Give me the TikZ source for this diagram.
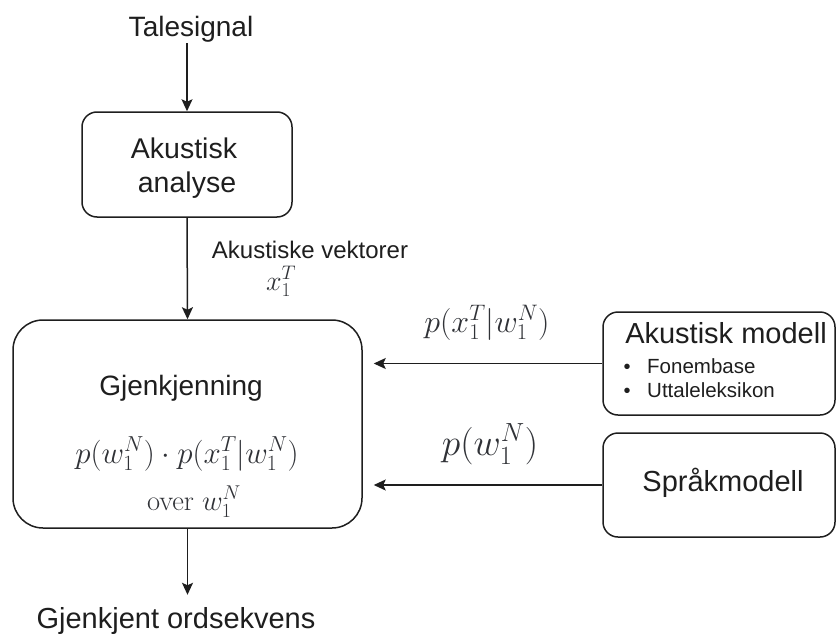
\RequirePackage{fix-cm}
\documentclass[tikz,border=0pt]{standalone}
\usepackage[no-math]{fontspec}
\setmainfont{Liberation Sans}
\usetikzlibrary{arrows.meta}
\definecolor{ink}{HTML}{1E1E1E}
\definecolor{mathink}{HTML}{303237}
\tikzset{
  box/.style={draw=ink, line width=1.5pt, rounded corners=#1, inner sep=0pt},
  box/.default=15pt,
  txt/.style={anchor=base, inner sep=0pt, text=ink},
  mth/.style={anchor=base, inner sep=0pt, text=mathink},
  flow/.style={draw=ink, line width=1.5pt, -{Stealth[length=12pt,width=11pt,inset=2.5pt]}}
}
\begin{document}
\begin{tikzpicture}[x=1pt,y=-1pt]
\useasboundingbox (0,0) rectangle (837,634);

% boxes
\node[box, minimum width=210pt, minimum height=105pt] (ana) at (187,164.5) {};
\node[box=30pt, minimum width=349pt, minimum height=208pt] (rec) at (187.5,424) {};
\node[box, minimum width=232pt, minimum height=103pt] (am) at (719,363.5) {};
\node[box, minimum width=232pt, minimum height=104pt] (lm) at (719,485) {};

% texts
\node[txt, font=\fontsize{28}{30}\selectfont] (tale) at (191,37) {Talesignal};
\node[txt, font=\fontsize{28.5}{30}\selectfont] (ana1) at (184,158) {Akustisk};
\node[txt, font=\fontsize{28.5}{30}\selectfont] (ana2) at (187,192) {analyse};
\node[txt, font=\fontsize{24}{26}\selectfont] (vek) at (310,258) {Akustiske vektorer};
\node[mth, font=\fontsize{28}{30}\selectfont] (xvec) at (281,290) {$x_1^T$};
\node[txt, font=\fontsize{28}{30}\selectfont] (rec1) at (181,395) {Gjenkjenning};
\node[mth, font=\fontsize{31}{33}\selectfont] (rec2) at (187,463) {$p(w_1^N)\cdot p(x_1^T|w_1^N)$};
\node[mth, font=\fontsize{28.5}{30}\selectfont] (rec3) at (194,510) {$\mathrm{over}\ w_1^N$};
\node[txt, font=\fontsize{29}{31}\selectfont] (out) at (176,628) {Gjenkjent ordsekvens};
\node[mth, font=\fontsize{32}{34}\selectfont] (plab) at (487,332) {$p(x_1^T|w_1^N)$};
\node[mth, font=\fontsize{37.5}{40}\selectfont] (wlab) at (490,455) {$p(w_1^N)$};
\node[txt, font=\fontsize{29}{31}\selectfont] (am1) at (726,343) {Akustisk modell};
\node[txt, anchor=base west, font=\fontsize{20.5}{22}\selectfont] (am2) at (647,373) {Fonembase};
\node[txt, anchor=base west, font=\fontsize{20.5}{22}\selectfont] (am3) at (647,397) {Uttaleleksikon};
\node[txt, font=\fontsize{20}{22}\selectfont] (b1) at (627,373) {\textbullet};
\node[txt, font=\fontsize{20}{22}\selectfont] (b2) at (627,397) {\textbullet};
\node[txt, font=\fontsize{29}{31}\selectfont] (lm1) at (723,491) {Språkmodell};

% connectors
\draw[flow] (ana.north |- tale.south) -- (ana.north);
\draw[flow] (ana.south) -- (rec.north);
\draw[flow, shorten >=12pt] (rec.south) -- (rec.south |- out.north);
\draw[flow, shorten >=11pt] (am.west) -- (rec.east |- am.west);
\draw[flow, shorten >=11pt] (lm.west) -- (rec.east |- lm.west);
\end{tikzpicture}
\end{document}
